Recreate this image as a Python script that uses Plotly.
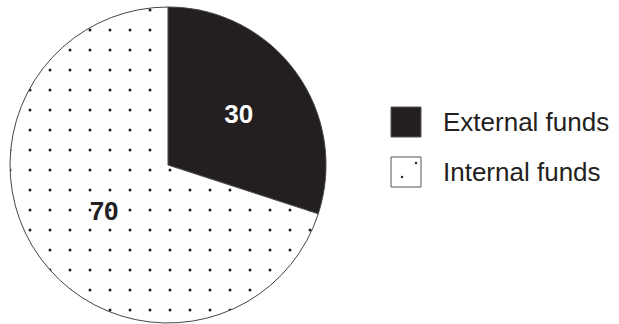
import plotly.graph_objects as go

labels = ["External funds", "Internal funds"]
values = [30, 70]
colors = ["#231f20", "#ffffff"]
text_colors = ["#ffffff", "#231f20"]

W, H = 619, 324
FONT = "Liberation Sans, Arial, sans-serif"

fig = go.Figure()
fig.add_trace(go.Pie(
    labels=labels,
    values=values,
    sort=False,
    direction="clockwise",
    rotation=0,
    domain=dict(x=[10 / W, 326 / W], y=[1 / H, 317 / H]),
    marker=dict(
        colors=colors,
        line=dict(color="#444444", width=1),
        pattern=dict(
            shape=["", "."],
            fgcolor="#231f20",
            bgcolor=["#231f20", "#ffffff"],
            size=20,
            solidity=0.018,
        ),
    ),
    texttemplate="%{value}",
    textposition="inside",
    insidetextorientation="horizontal",
    textfont=dict(family=FONT, size=26, color=text_colors, weight="bold"),
    showlegend=False,
    hoverinfo="label+value",
))

# custom legend (large swatches as in the reference)
shapes = []
annotations = []
box_x0, box_x1 = 391, 421
top0, step, box = 107, 50, 30
for i, lab in enumerate(labels):
    y0 = top0 + i * step
    shapes.append(dict(
        type="rect", xref="paper", yref="paper",
        x0=box_x0 / W, x1=box_x1 / W,
        y0=1 - (y0 + box) / H, y1=1 - y0 / H,
        fillcolor=colors[i], line=dict(color="#555555", width=1),
    ))
    annotations.append(dict(
        text=lab, xref="paper", yref="paper",
        x=441 / W, y=1 - (y0 + box / 2) / H,
        xanchor="left", yanchor="middle", showarrow=False,
        font=dict(family=FONT, size=26, color="#231f20"),
    ))
    if i == 1:
        for (dx, dy) in [(25, 6), (11, 20)]:
            cx, cy = box_x0 + dx, y0 + dy
            shapes.append(dict(
                type="circle", xref="paper", yref="paper",
                x0=(cx - 1.2) / W, x1=(cx + 1.2) / W,
                y0=1 - (cy + 1.2) / H, y1=1 - (cy - 1.2) / H,
                fillcolor="#231f20", line=dict(width=0),
            ))

fig.update_layout(
    width=W, height=H,
    margin=dict(l=0, r=0, t=0, b=0),
    paper_bgcolor="#ffffff",
    plot_bgcolor="#ffffff",
    shapes=shapes,
    annotations=annotations,
)

fig.write_html("out.html")
